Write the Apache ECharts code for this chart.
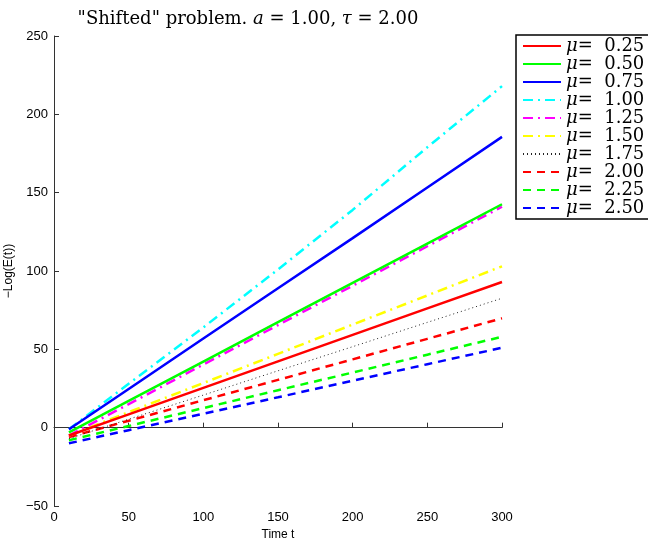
<!DOCTYPE html>
<html>
<head>
<meta charset="utf-8">
<script src="https://cdn.jsdelivr.net/npm/echarts@6/dist/echarts.min.js"></script>
<style>
  html, body { margin: 0; padding: 0; background: #fff; }
  #chart { width: 648px; height: 539px; }
</style>
</head>
<body>
<div id="chart"></div>
<script>
const chart = echarts.init(document.getElementById('chart'));

const times = [10, 50, 100, 150, 200, 250, 300];
const mu025 = [-5, 8.5, 25.4, 42.3, 59.2, 76.1, 93];
const mu050 = [-3, 17.1, 42.2, 67.3, 92.4, 117.5, 142.6];
const mu075 = [-1, 24.7, 56.9, 89, 121, 153.3, 185.6];
const mu100 = [-1, 28, 64, 101, 139, 179, 218];
const mu125 = [-5, 15, 40.3, 65.5, 90.6, 115.8, 141];
const mu150 = [-5, 9.9, 28.5, 47.1, 65.8, 84.4, 103];
const mu175 = [-7, 5.4, 20.8, 36.3, 51.7, 67.2, 82.6];
const mu200 = [-6, 4.4, 17.5, 30.5, 43.6, 56.7, 69.8];
const mu225 = [-8, 1.1, 12.5, 23.9, 35.2, 46.6, 58];
const mu250 = [-10, -1.6, 8.9, 19.4, 30, 40.5, 51];

const muLabels = ['0.25', '0.50', '0.75', '1.00', '1.25', '1.50', '1.75', '2.00', '2.25', '2.50'];
const yTicks = [-50, 0, 50, 100, 150, 200, 250];

const solid = 'solid';
const dashDot = [10, 5, 2, 5];
const dotted = [1, 3];
const dashed = [8, 6];

const styles = [
  { values: mu025, color: '#ff0000', type: solid, width: 2.5 },
  { values: mu050, color: '#00ff00', type: solid, width: 2.5 },
  { values: mu075, color: '#0000ff', type: solid, width: 2.5 },
  { values: mu100, color: '#00ffff', type: dashDot, width: 2.5 },
  { values: mu125, color: '#ff00ff', type: dashDot, width: 2.5 },
  { values: mu150, color: '#ffff00', type: dashDot, width: 2.5 },
  { values: mu175, color: '#222222', type: dotted, width: 1 },
  { values: mu200, color: '#ff0000', type: dashed, width: 2.5 },
  { values: mu225, color: '#00ff00', type: dashed, width: 2.5 },
  { values: mu250, color: '#0000ff', type: dashed, width: 2.5 }
];

const series = styles.map((s, i) => ({
  name: 'μ= ' + muLabels[i],
  type: 'line',
  symbol: 'none',
  color: s.color,
  lineStyle: { color: s.color, type: s.type, width: s.width },
  data: times.map((t, j) => [t, s.values[j]]),
  z: 10 - i
}));

chart.setOption({
  animation: false,
  title: {
    text: '"Shifted" problem. {i|a} = 1.00, {i|τ} = 2.00',
    left: 243,
    textAlign: 'center',
    top: 5,
    textStyle: {
      fontFamily: 'DejaVu Serif',
      fontWeight: 'normal',
      fontSize: 18,
      color: '#000',
      rich: {
        i: { fontFamily: 'DejaVu Serif', fontStyle: 'italic', fontSize: 18, color: '#000' }
      }
    }
  },
  grid: { left: 54, right: 146, top: 36, bottom: 33, containLabel: false, outerBoundsMode: 'none' },
  legend: {
    orient: 'vertical',
    left: 516,
    top: 35,
    itemWidth: 38,
    itemHeight: 10,
    itemGap: 0,
    padding: [2, 12, 2, 6],
    backgroundColor: '#fff',
    borderColor: '#000',
    borderWidth: 1.5,
    borderRadius: 0,
    itemStyle: { opacity: 0 },
    data: series.map(s => s.name),
    formatter: name => '{i|μ}{n|=  ' + name.slice(3) + '}',
    textStyle: {
      padding: [0, 0, 0, 0],
      rich: {
        i: { fontFamily: 'DejaVu Serif', fontStyle: 'italic', fontSize: 18, lineHeight: 18.5, color: '#000' },
        n: { fontFamily: 'DejaVu Serif', fontSize: 18, lineHeight: 18.5, color: '#000' }
      }
    }
  },
  xAxis: {
    type: 'value',
    min: 0,
    max: 300,
    interval: 50,
    name: 'Time t',
    nameLocation: 'middle',
    nameGap: 20,
    nameTextStyle: { fontFamily: 'Liberation Sans', fontSize: 12, color: '#000' },
    axisLine: { lineStyle: { color: '#333', width: 1 } },
    axisTick: { inside: true, length: 5, lineStyle: { color: '#333' } },
    axisLabel: { fontFamily: 'Liberation Sans', fontSize: 13, color: '#000', margin: 5 },
    splitLine: { show: false }
  },
  yAxis: {
    type: 'value',
    min: yTicks[0],
    max: yTicks[yTicks.length - 1],
    interval: 50,
    name: '\u2212Log(E(t))',
    nameLocation: 'middle',
    nameGap: 34,
    nameRotate: 90,
    nameTextStyle: { fontFamily: 'Liberation Sans', fontSize: 12, color: '#000' },
    axisLine: { show: true, lineStyle: { color: '#333', width: 1 } },
    axisTick: { show: true, inside: true, length: 5, lineStyle: { color: '#333' } },
    axisLabel: {
      fontFamily: 'Liberation Sans', fontSize: 13, color: '#000', margin: 6,
      formatter: v => String(v).replace('-', '\u2212')
    },
    splitLine: { show: false }
  },
  series: series
});
</script>
</body>
</html>
